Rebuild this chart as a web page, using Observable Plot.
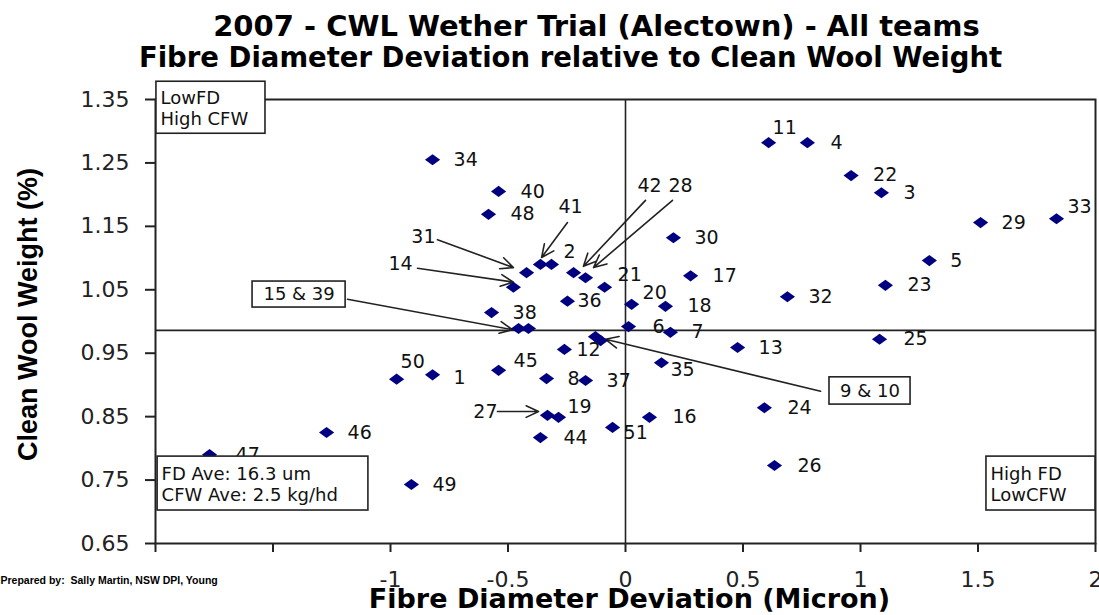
<!DOCTYPE html>
<html><head><meta charset="utf-8">
<script src="https://cdn.jsdelivr.net/npm/d3@7"></script>
<script src="https://cdn.jsdelivr.net/npm/@observablehq/plot@0.6"></script>
<style>
html,body{margin:0;padding:0;background:#fff;}
#chart svg{display:block;}
</style></head><body><div id="chart"></div>
<script>
// ---- data ----
const teams = [1,2,3,4,5,6,7,8,9,10,11,12,13,14,15,16,17,18,19,20,21,22,23,24,25,26,27,28,29,30,31,32,33,34,35,36,37,38,39,40,41,42,44,45,46,47,48,49,50,51];
const fdDeviation = [-0.821,-0.315,1.089,0.774,1.293,0.013,0.191,-0.336,-0.128,-0.106,0.609,-0.260,0.477,-0.477,-0.455,0.102,0.277,0.170,-0.285,0.026,-0.089,0.960,1.106,0.591,1.081,0.634,-0.332,-0.170,1.511,0.204,-0.421,0.689,1.834,-0.821,0.153,-0.247,-0.170,-0.570,-0.413,-0.540,-0.362,-0.221,-0.362,-0.540,-1.272,-1.770,-0.583,-0.911,-0.974,-0.055];
const cfwRatio = [0.916,1.090,1.203,1.282,1.096,0.992,0.983,0.910,0.976,0.970,1.282,0.956,0.959,1.054,0.989,0.849,1.072,1.024,0.849,1.027,1.054,1.230,1.057,0.864,0.972,0.773,0.852,1.069,1.156,1.132,1.077,1.039,1.162,1.255,0.935,1.032,0.907,1.014,0.989,1.205,1.090,1.077,0.817,0.923,0.825,0.790,1.169,0.743,0.909,0.833];

const xTicks = [-2,-1.5,-1,-0.5,0,0.5,1,1.5,2];
const xTickLabels = ["","","-1","-0.5","0","0.5","1","1.5","2"];
const yTicks = [0.65,0.75,0.85,0.95,1.05,1.15,1.25,1.35];
const yTickLabels = ["0.65","0.75","0.85","0.95","1.05","1.15","1.25","1.35"];
const fdAverageLine = [0];
const cfwAverageLine = [0.986];

const titleLines = ["2007 - CWL Wether Trial (Alectown) - All teams","Fibre Diameter Deviation relative to Clean Wool Weight"];
const xTitle = "Fibre Diameter Deviation (Micron)";
const yTitle = "Clean Wool Weight (%)";
const credit = "Prepared by:  Sally Martin, NSW DPI, Young";

// annotation boxes (data units)
const boxText = ["LowFD\nHigh CFW","FD Ave: 16.3 um\nCFW Ave: 2.5 kg/hd","High FD\nLowCFW","15 & 39","9 & 10"];
const boxX1 = [-1.996,-1.991,1.536,-1.587,0.868];
const boxX2 = [-1.532,-1.094,2.0,-1.191,1.213];
const boxY1 = [1.378,0.787,0.787,1.063,0.912];
const boxY2 = [1.296,0.702,0.702,1.022,0.869];

// arrows (data units)
const arrowLabel = ["31","14","41","42","28","27","15 & 39","9 & 10"];
const arrowX1 = [-0.800,-0.885,-0.247,0.085,0.200,-0.545,-1.183,0.830];
const arrowY1 = [1.129,1.084,1.156,1.191,1.191,0.858,1.035,0.890];
const arrowX2 = [-0.477,-0.477,-0.357,-0.179,-0.136,-0.370,-0.481,-0.085];
const arrowY2 = [1.085,1.062,1.101,1.087,1.085,0.858,0.987,0.972];
const arrowTextX = [-0.860,-0.957,-0.234,0.102,0.234,-0.596];
const arrowTextY = [1.134,1.091,1.180,1.214,1.214,0.858];

// ---- build tables ----
const points = teams.map((t,i)=>({team:t, fd:fdDeviation[i], cfw:cfwRatio[i]}));
const boxes = boxText.map((t,i)=>({text:t, x1:boxX1[i], x2:boxX2[i], y1:boxY1[i], y2:boxY2[i]}));
const arrows = arrowLabel.map((t,i)=>({label:t, x1:arrowX1[i], y1:arrowY1[i], x2:arrowX2[i], y2:arrowY2[i]}));
const arrowTexts = arrowTextX.map((x,i)=>({label:arrowLabel[i], x, y:arrowTextY[i]}));

const arrowLabelled = new Set([9,10,14,15,27,28,31,39,41,42]);
const defaultNudge = [21,0];
const labelNudge = {1:[21,3],2:[12,-13],3:[22,0],4:[23,0],6:[24,0],11:[4,-15],12:[12,0],16:[23,0],17:[22,0],18:[22,0],19:[9,-10],20:[11,-11],21:[13,-12],22:[22,-1],23:[22,0],24:[23,0],25:[24,0],26:[23,0],33:[11,-12],35:[9,7],36:[10,0],40:[22,0],44:[23,0],45:[15,-9],47:[26,0],48:[22,0],50:[4,-17],51:[11,5]};
const groups = d3.group(points.filter(d=>!arrowLabelled.has(d.team)), d => (labelNudge[d.team]||defaultNudge).join(","));

const wideDiamond = {draw(context, size){
  const r = Math.sqrt(size/Math.PI), w = r*1.9, h = r*1.4;
  context.moveTo(0,-h); context.lineTo(w,0); context.lineTo(0,h); context.lineTo(-w,0); context.closePath();
}};

const FONT = "DejaVu Sans";
const ink = "#111";

const labelMarks = [...groups].map(([k,rows])=>{
  const [dx,dy] = k.split(",").map(Number);
  return Plot.text(rows,{x:"fd",y:"cfw",text:d=>String(d.team),dx,dy,textAnchor:"start",lineAnchor:"middle",fontSize:19,fontFamily:FONT,fill:ink});
});

const chart = Plot.plot({
  width: 1099, height: 615,
  marginTop: 99, marginBottom: 72, marginLeft: 155, marginRight: 4,
  style: {background:"#fff", fontFamily: FONT, overflow:"visible"},
  x: {domain:[-2,2]},
  y: {domain:[0.65,1.35]},
  marks: [
    Plot.ruleX(fdAverageLine,{stroke:"#222",strokeWidth:1.6}),
    Plot.ruleY(cfwAverageLine,{stroke:"#222",strokeWidth:1.6}),
    Plot.frame({stroke:"#222",strokeWidth:2}),
    Plot.axisX({ticks:xTicks,tickFormat:(d)=>xTickLabels[xTicks.indexOf(d)],tickSize:9,tickPadding:19,fontSize:22,fontFamily:FONT,fill:"#222",stroke:"#222",strokeWidth:2,label:null}),
    Plot.axisY({ticks:yTicks,tickFormat:(d)=>yTickLabels[yTicks.indexOf(d)],tickSize:10,tickPadding:16,fontSize:22,fontFamily:FONT,fill:"#222",stroke:"#222",strokeWidth:2,label:null}),
    Plot.arrow(arrows,{x1:"x1",y1:"y1",x2:"x2",y2:"y2",stroke:"#222",strokeWidth:1.6,headLength:13,headAngle:50,insetStart:0,insetEnd:0}),
    Plot.dot(points,{x:"fd",y:"cfw",symbol:wideDiamond,r:4,fill:"#000080",stroke:null}),
    ...labelMarks,
    Plot.text(arrowTexts,{x:"x",y:"y",text:"label",textAnchor:"middle",lineAnchor:"middle",fontSize:19,fontFamily:FONT,fill:ink}),
    Plot.rect(boxes,{x1:"x1",x2:"x2",y1:"y1",y2:"y2",fill:"white",stroke:"#222",strokeWidth:1.6}),
    Plot.text(boxes.slice(0,3),{x:"x1",y:d=>(d.y1+d.y2)/2,text:"text",dx:4,textAnchor:"start",lineAnchor:"middle",lineHeight:1.15,fontSize:18,fontFamily:FONT,fill:ink}),
    Plot.text(boxes.slice(3),{x:d=>(d.x1+d.x2)/2,y:d=>(d.y1+d.y2)/2,text:"text",textAnchor:"middle",lineAnchor:"middle",fontSize:18,fontFamily:FONT,fill:ink}),
    // titles
    Plot.text([titleLines[0]],{frameAnchor:"top",text:d=>d,dx:-29,dy:-73,textAnchor:"middle",lineAnchor:"middle",fontSize:29,fontWeight:"bold",fontFamily:FONT,fill:"#000"}),
    Plot.text([titleLines[1]],{frameAnchor:"top",text:d=>d,dx:-55,dy:-41,textAnchor:"middle",lineAnchor:"middle",fontSize:27.5,fontWeight:"bold",fontFamily:FONT,fill:"#000"}),
    Plot.text([xTitle],{frameAnchor:"bottom",text:d=>d,dx:4,dy:56,textAnchor:"middle",lineAnchor:"middle",fontSize:27,fontWeight:"bold",fontFamily:FONT,fill:"#000"}),
    Plot.text([yTitle],{frameAnchor:"left",text:d=>d,dx:-127,dy:-7,rotate:-90,textAnchor:"middle",lineAnchor:"middle",fontSize:27,fontWeight:"bold",fontFamily:"Liberation Sans",fill:"#000"}),
    Plot.text([credit],{frameAnchor:"bottom-left",text:d=>d,dx:-155,dy:37,textAnchor:"start",lineAnchor:"middle",fontSize:10.5,fontWeight:"bold",fontFamily:"Liberation Sans",fill:"#000"})
  ]
});
document.getElementById("chart").appendChild(chart);
</script></body></html>
